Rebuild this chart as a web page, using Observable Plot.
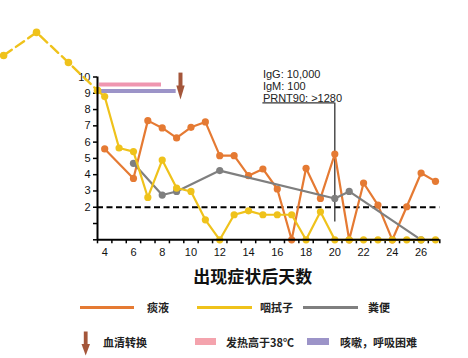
<!DOCTYPE html>
<html><head><meta charset="utf-8">
<script src="https://cdn.jsdelivr.net/npm/d3@7"></script>
<script src="https://cdn.jsdelivr.net/npm/@observablehq/plot@0.6"></script>
<style>
body{margin:0;background:#fff;}
#wrap{position:relative;width:468px;height:358px;overflow:hidden;font-family:"Noto Sans CJK SC","Noto Sans",sans-serif;}
#wrap svg.plot{position:absolute;left:0;top:0;}
.lg{position:absolute;font-size:11px;font-weight:bold;color:#222;line-height:14px;white-space:nowrap;}
.sw{position:absolute;}
</style></head><body><div id="wrap"></div>
<script>
// ---- data ----
const seriesNames = ["痰液", "咽拭子", "粪便"];
const sputumDays = [4,6,7,8,9,10,11,12,13,14,15,16,17,18,19,20,21,22,23,24,25,26,27];
const sputumVals = [5.58,3.77,7.32,6.87,6.26,6.91,7.24,5.17,5.17,3.94,4.35,3.12,0,4.39,2.54,5.27,0,3.49,2.13,0,2.03,4.1,3.59];
const swabDays = [3.5,4,5,6,7,8,9,10,11,12,13,14,15,16,17,18,19,20,21,22,23,24,25,26,27];
const swabVals = [9.17,8.8,5.64,5.42,2.6,4.9,3.18,2.97,1.23,0,1.54,1.78,1.54,1.54,1.54,0,1.72,0,0,0,0,0,0,0,0];
const swabEarlyDays = [-3.03,-0.74,1.48,3.5];
const swabEarlyVals = [11.32,12.74,10.89,9.17];
const stoolDays = [6,8,9,12,20,21,26];
const stoolVals = [4.7,2.75,2.97,4.25,2.54,2.97,0];
const threshold = [2];
const feverSpan = {x1: 3.64, x2: 7.95, y: 9.54};
const coughSpan = {x1: 3.64, x2: 8.97, y: 9.14};
const seroDay = 9.27, seroTop = 10.24, seroShaftEnd = 9.3, seroHead = 9.05;
const noteLines = ["IgG: 10,000", "IgM: 100", "PRNT90: >1280"];
const noteYs = [10.15, 9.43, 8.69];
const noteX = 15, noteDay = 20, noteLineY = 8.41, noteBottom = 1.1;
const halfTicks = d3.range(3.5, 27, 1).concat([27.3]);
const evenTicks = [4,6,8,10,12,14,16,18,20,22,24,26];
const yTicks = [0,1,2,3,4,5,6,7,8,9,10];
const xTitle = "出现症状后天数";
const otherLegend = ["血清转换", "发热高于38℃", "咳嗽，呼吸困难"];

// ---- styles ----
const cOrange = "#e57a33", cYellow = "#efc21b", cGray = "#7f7f7f";
const cPink = "#ef96b0", cPurple = "#9c94c8", cBrown = "#a4563a";

const toPts = (xs, ys) => xs.map((d, i) => ({day: d, v: ys[i]}));
const sputum = toPts(sputumDays, sputumVals);
const swab = toPts(swabDays, swabVals);
const swabEarly = toPts(swabEarlyDays, swabEarlyVals);
const stool = toPts(stoolDays, stoolVals);

const headSymbol = {draw(ctx) { ctx.moveTo(-4.2, -7); ctx.lineTo(4.2, -7); ctx.lineTo(0, 7); ctx.closePath(); }};

const plot = Plot.plot({
  width: 468, height: 290,
  marginLeft: 97, marginRight: 28.7, marginTop: 76.5, marginBottom: 50.7,
  style: {fontFamily: "'Liberation Sans', Arial, sans-serif", fontSize: "11px", background: "transparent", overflow: "visible"},
  x: {domain: [3.5, 27.3]},
  y: {domain: [0, 10]},
  marks: [
    Plot.axisX({ticks: halfTicks, tickFormat: () => "", tickSize: 4, strokeWidth: 1.5, stroke: "#000"}),
    Plot.axisX({ticks: evenTicks, tickSize: 0, tickPadding: 8, fontSize: 11, fill: "#111"}),
    Plot.axisY({ticks: yTicks, tickFormat: d => d >= 2 ? String(d) : "", tickSize: 4, tickPadding: 3, strokeWidth: 1.5, fontSize: 11, fill: "#111"}),
    Plot.ruleY(threshold, {stroke: "#000", strokeWidth: 2.2, strokeDasharray: "6,3.5"}),
    Plot.ruleY([coughSpan], {x1: "x1", x2: "x2", y: "y", stroke: cPurple, strokeWidth: 3.8}),
    Plot.ruleY([feverSpan], {x1: "x1", x2: "x2", y: "y", stroke: cPink, strokeWidth: 4}),
    Plot.ruleX([seroDay], {y1: seroTop, y2: seroShaftEnd, stroke: cBrown, strokeWidth: 4}),
    Plot.dot([seroDay], {x: d => d, y: seroHead, symbol: headSymbol, fill: cBrown, stroke: "none"}),
    Plot.ruleY([noteLineY], {x1: noteX, x2: noteDay, stroke: "#333", strokeWidth: 1.3}),
    Plot.ruleX([noteDay], {y1: noteLineY, y2: noteBottom, stroke: "#333", strokeWidth: 1.3}),
    Plot.text(noteLines, {x: noteX, y: (d, i) => noteYs[i], text: d => d, textAnchor: "start", fontSize: 11, fill: "#222"}),
    Plot.line(sputum, {x: "day", y: "v", stroke: cOrange, strokeWidth: 2.2}),
    Plot.dot(sputum, {x: "day", y: "v", fill: cOrange, r: 3.6}),
    Plot.line(stool, {x: "day", y: "v", stroke: cGray, strokeWidth: 2.2}),
    Plot.dot(stool, {x: "day", y: "v", fill: cGray, r: 3.6}),
    Plot.line(swabEarly, {x: "day", y: "v", stroke: cYellow, strokeWidth: 2.4, strokeDasharray: "10,5"}),
    Plot.dot(swabEarly, {x: "day", y: "v", fill: cYellow, r: 3.8}),
    Plot.line(swab, {x: "day", y: "v", stroke: cYellow, strokeWidth: 2.2}),
    Plot.dot(swab, {x: "day", y: "v", fill: cYellow, r: 3.6}),
    Plot.ruleX([3.5], {y1: 0, y2: 10, stroke: "#000", strokeWidth: 2}),
    Plot.ruleY([0], {x1: 3.5, x2: 27.3, stroke: "#000", strokeWidth: 2}),
    Plot.text([xTitle], {frameAnchor: "bottom", dy: 37.4, dx: -16, lineAnchor: "middle", fontSize: 17, fontWeight: "bold", fill: "#111", fontFamily: "'Noto Sans CJK SC', sans-serif"})
  ]
});
plot.classList.add("plot");
const wrap = document.getElementById("wrap");
wrap.appendChild(plot);

// ---- legend (HTML) ----
function add(html) { wrap.insertAdjacentHTML("beforeend", html); }
const row1 = [[80, 134, 147, cOrange], [197, 252, 260, cYellow], [303, 358, 368, cGray]];
row1.forEach(([a, b, t, c], i) => {
  add(`<div class="sw" style="left:${a}px;top:306px;width:${b - a}px;height:2.5px;background:${c}"></div>`);
  add(`<div class="lg" style="left:${t}px;top:300px">${seriesNames[i]}</div>`);
});
add(`<svg class="sw" style="left:78px;top:330px" width="16" height="28"><rect x="5.8" y="1.5" width="3.8" height="14" fill="${cBrown}"/><polygon points="3.5,14 12,14 7.7,25.5" fill="${cBrown}"/></svg>`);
add(`<div class="lg" style="left:103px;top:334.5px">${otherLegend[0]}</div>`);
add(`<div class="sw" style="left:195px;top:338px;width:21px;height:7px;background:#f4a3ad"></div>`);
add(`<div class="lg" style="left:226px;top:334.5px">${otherLegend[1]}</div>`);
add(`<div class="sw" style="left:307px;top:338px;width:22px;height:7px;background:${cPurple}"></div>`);
add(`<div class="lg" style="left:340px;top:334.5px">${otherLegend[2]}</div>`);
</script>
</body></html>
